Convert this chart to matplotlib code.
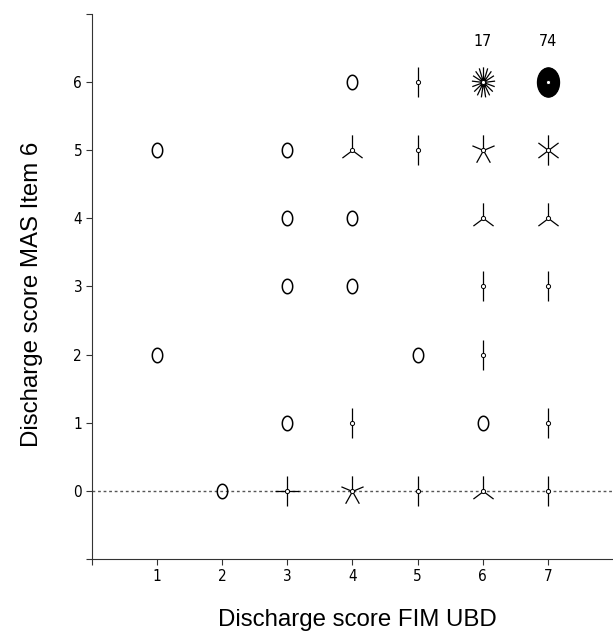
import numpy as np
import matplotlib
matplotlib.use("Agg")
import matplotlib.pyplot as plt
from matplotlib.path import Path

# sunflower plot: each cell (FIM UBD, MAS item 6) with number of patients
fim_ubd = [4, 5, 6, 7,
           1, 3, 4, 5, 6, 7,
           3, 4, 6, 7,
           3, 4, 6, 7,
           1, 5, 6,
           3, 4, 6, 7,
           2, 3, 4, 5, 6, 7]
mas_item6 = [6, 6, 6, 6,
             5, 5, 5, 5, 5, 5,
             4, 4, 4, 4,
             3, 3, 3, 3,
             2, 2, 2,
             1, 1, 1, 1,
             0, 0, 0, 0, 0, 0]
counts = [1, 2, 17, 74,
          1, 1, 3, 2, 5, 6,
          1, 1, 3, 3,
          1, 1, 2, 2,
          1, 1, 2,
          1, 2, 1, 2,
          1, 4, 5, 2, 3, 2]
labelled = [17, 74]

tick_font = ['Liberation Sans Narrow', 'DejaVu Sans']
label_font = ['Liberation Sans', 'Arial', 'DejaVu Sans']


def petal_marker(n):
    # n petals starting straight up, slightly narrower horizontally
    verts = []
    codes = []
    for k in range(n):
        a = np.pi / 2 + 2 * np.pi * k / n
        verts += [(0, 0), (0.77 * np.cos(a), np.sin(a))]
        codes += [Path.MOVETO, Path.LINETO]
    return Path(verts, codes)


def ellipse_marker():
    t = np.linspace(0, 2 * np.pi, 60)
    return Path(np.column_stack([0.72 * np.cos(t), np.sin(t)]), closed=True)


fig = plt.figure(figsize=(6.13, 6.35), dpi=100)
ax = fig.add_axes([0.150, 0.1197, 0.850, 0.8583])

ax.axhline(0, color='#555555', lw=1.0, ls=(0, (2, 2)), zorder=1)

for x, y, c in zip(fim_ubd, mas_item6, counts):
    if c == 1:
        ax.plot(x, y, marker=ellipse_marker(), ms=10.4, mfc='none',
                mec='black', mew=1.1, ls='none', zorder=3)
    else:
        ax.plot(x, y, marker=petal_marker(c), ms=21.8, mfc='none',
                mec='black', mew=0.9, ls='none', zorder=3)
        ax.plot(x, y, marker='o', ms=3.0, mfc='white', mec='black',
                mew=0.7, ls='none', zorder=4)
    if c in labelled:
        ax.text(x, y + 0.6, str(c), ha='center', va='center',
                fontsize=11.5, family=tick_font, fontstretch='condensed')

ax.set_xlim(0, 8)
ax.set_ylim(-1, 7)
ax.set_xticks(range(0, 8))
ax.set_xticklabels([''] + [str(i) for i in range(1, 8)])
ax.set_yticks(range(-1, 8))
ax.set_yticklabels([''] + [str(i) for i in range(0, 7)] + [''])

ax.spines['top'].set_visible(False)
ax.spines['right'].set_visible(False)
ax.spines['left'].set_color('#333333')
ax.spines['bottom'].set_color('#333333')
ax.tick_params(direction='out', length=4, width=0.8, color='#333333',
               labelsize=11, pad=3)
for lab in ax.get_xticklabels() + ax.get_yticklabels():
    lab.set_family(tick_font)
    lab.set_fontstretch('condensed')

ax.set_xlabel('Discharge score FIM UBD', fontsize=17.3, family=label_font)
ax.xaxis.set_label_coords(0.51, -0.092)
ax.set_ylabel('Discharge score MAS Item 6', fontsize=17.3, family=label_font)
ax.yaxis.set_label_coords(-0.094, 0.485)

fig.savefig('out.png', dpi=100)
